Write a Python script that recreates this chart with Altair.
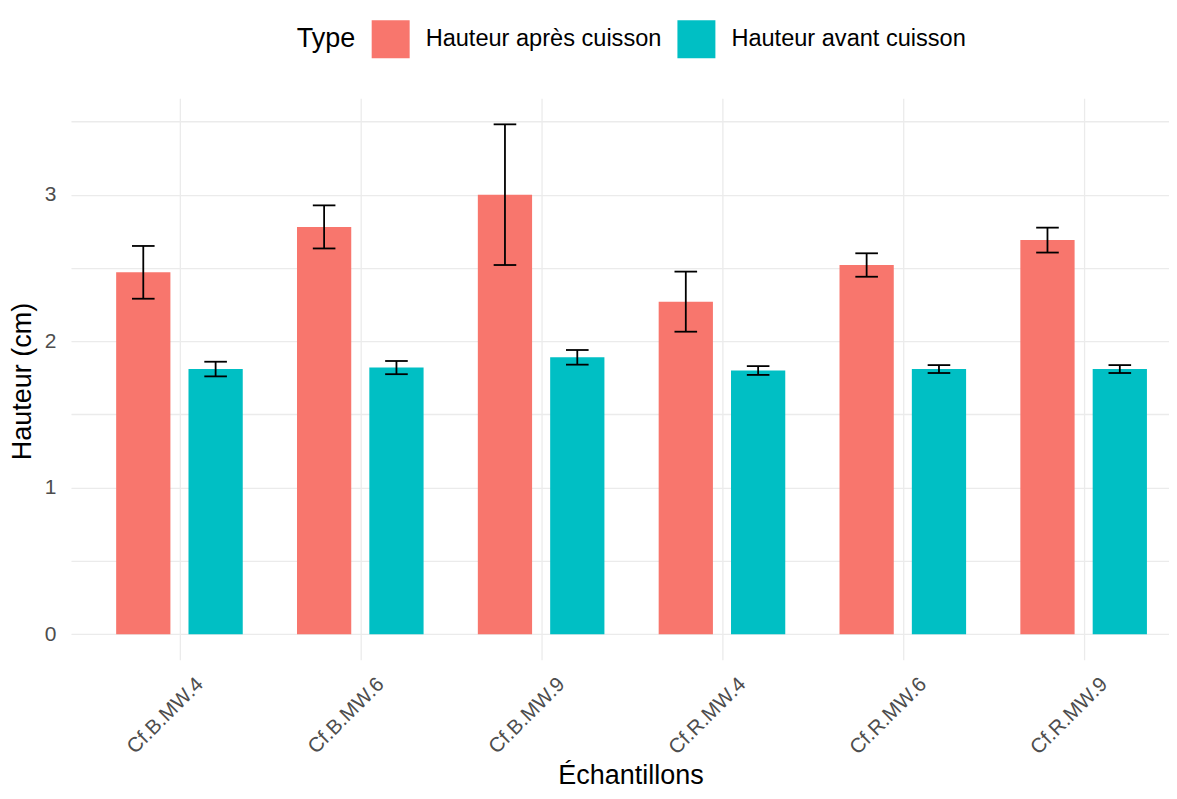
import altair as alt
import pandas as pd

# ---- data ----
samples = ["Cf.B.MW.4", "Cf.B.MW.6", "Cf.B.MW.9", "Cf.R.MW.4", "Cf.R.MW.6", "Cf.R.MW.9"]
types = ["Hauteur après cuisson", "Hauteur avant cuisson"]
apres_mean = [2.47, 2.78, 3.00, 2.27, 2.52, 2.69]
apres_err = [0.18, 0.147, 0.48, 0.205, 0.08, 0.085]
avant_mean = [1.81, 1.82, 1.89, 1.80, 1.81, 1.81]
avant_err = [0.05, 0.045, 0.05, 0.03, 0.027, 0.027]
y_ticks = [0, 0.5, 1, 1.5, 2, 2.5, 3, 3.5]
colors = ["#F8766D", "#00BFC4"]

rows = []
for i, s in enumerate(samples):
    rows.append(dict(sample=s, idx=i + 1, type=types[0], mean=apres_mean[i], err=apres_err[i], slot=-1))
    rows.append(dict(sample=s, idx=i + 1, type=types[1], mean=avant_mean[i], err=avant_err[i], slot=1))
df = pd.DataFrame(rows)

FONT = "Liberation Sans"
label_expr = "[" + ",".join("'" + s + "'" for s in samples) + "][datum.value - 1]"

xscale = alt.Scale(domain=[0.4, 6.472], nice=False, zero=False)
yscale = alt.Scale(domain=[-0.174, 3.658], nice=False, zero=False)

x_axis = alt.Axis(
    values=list(range(1, len(samples) + 1)),
    labelExpr=label_expr,
    labelAngle=-45, labelAlign="right", labelBaseline="top",
    labelFontSize=20.5, labelColor="#4D4D4D", labelFont=FONT,
    labelPadding=14, labelOffset=13,
    ticks=False, domain=False, grid=True, gridColor="#EBEBEB", gridWidth=1.3,
    title="Échantillons", titleFont=FONT, titleFontSize=27, titleFontWeight="normal",
    titleColor="#000000", titleX=560, titleY=124, titleBaseline="alphabetic", titleAlign="center",
    labelOverlap=False, labelFlush=False,
)
y_axis = alt.Axis(
    values=y_ticks,
    labelExpr="datum.value % 1 === 0 ? format(datum.value, 'd') : ''",
    labelFontSize=21, labelColor="#4D4D4D", labelFont=FONT, labelPadding=15,
    ticks=False, domain=False, grid=True, gridColor="#EBEBEB", gridWidth=1.3,
    title="Hauteur (cm)", titleFont=FONT, titleFontSize=27, titleFontWeight="normal",
    titleColor="#000000", titleAngle=-90, titleX=-34, titleY=283,
    titleBaseline="bottom", titleAlign="center",
    labelOverlap=False,
)

base = alt.Chart(df).transform_calculate(
    center="datum.idx + datum.slot * 0.2",
).transform_calculate(
    x0="datum.center - 0.15",
    x1="datum.center + 0.15",
    c0="datum.center - 0.0625",
    c1="datum.center + 0.0625",
    lo="datum.mean - datum.err",
    hi="datum.mean + datum.err",
)

bars = base.mark_bar().encode(
    x=alt.X("x0:Q", scale=xscale, axis=x_axis),
    x2="x1:Q",
    y=alt.Y("mean:Q", scale=yscale, axis=y_axis),
    y2=alt.datum(0),
    color=alt.Color(
        "type:N",
        scale=alt.Scale(domain=types, range=colors),
        legend=alt.Legend(
            title="Type", orient="none", legendX=226, legendY=-78,
            direction="horizontal", titleOrient="left",
            titleFont=FONT, titleFontSize=27, titleFontWeight="normal", titleColor="#000000",
            titlePadding=16, titleBaseline="middle", titleAnchor="middle",
            labelFont=FONT, labelFontSize=23.6, labelColor="#000000", labelLimit=500,
            labelOffset=16, columnPadding=15, padding=0,
            symbolType="square", symbolSize=1444, symbolStrokeWidth=0, symbolOpacity=1,
        ),
    ),
)

vline = base.mark_rule(color="black", strokeWidth=1.8).encode(
    x=alt.X("center:Q", scale=xscale, axis=x_axis),
    y=alt.Y("lo:Q", scale=yscale, axis=y_axis),
    y2="hi:Q",
)
cap_hi = base.mark_rule(color="black", strokeWidth=1.8).encode(
    x=alt.X("c0:Q", scale=xscale, axis=x_axis),
    x2="c1:Q",
    y=alt.Y("hi:Q", scale=yscale, axis=y_axis),
)
cap_lo = base.mark_rule(color="black", strokeWidth=1.8).encode(
    x=alt.X("c0:Q", scale=xscale, axis=x_axis),
    x2="c1:Q",
    y=alt.Y("lo:Q", scale=yscale, axis=y_axis),
)

chart = alt.layer(bars, vline, cap_hi, cap_lo).properties(
    width=1099, height=562,
    autosize=alt.AutoSizeParams(type="none"),
    padding={"left": 63, "top": 90, "right": 0, "bottom": 130},
    background="white",
).configure_view(stroke=None)

chart.save("out.html", embed_options={"renderer": "svg", "actions": False})
